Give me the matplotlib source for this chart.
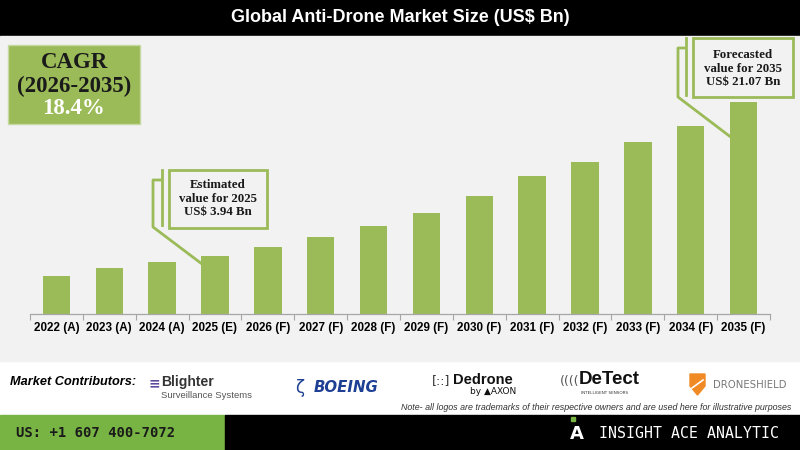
import matplotlib.pyplot as plt
import matplotlib.patches as mpatches
from matplotlib.lines import Line2D
import numpy as np

years = ["2022 (A)", "2023 (A)", "2024 (A)", "2025 (E)", "2026 (F)", "2027 (F)", "2028 (F)",
         "2029 (F)", "2030 (F)", "2031 (F)", "2032 (F)", "2033 (F)", "2034 (F)", "2035 (F)"]
market_size = [1.68, 2.57, 3.21, 3.94, 4.87, 5.99, 7.24, 8.69, 10.55, 12.77, 14.40, 16.55, 18.37, 21.07]
cagr_period = "(2026-2035)"
cagr_value = "18.4%"
contributors = ["Blighter", "BOEING", "Dedrone", "DeTect", "DRONESHIELD"]

# the bars in the picture do not start from zero
base = -2.55

W, H = 800, 450
GREEN = "#9bbb59"
BG = "#f2f2f2"


def fx(x):
    return x / W


def fy(y):
    return 1 - y / H


fig = plt.figure(figsize=(8, 4.5), dpi=100)
fig.patch.set_facecolor("white")

# background bands
fig.add_artist(mpatches.Rectangle((0, fy(36)), 1, 36 / H, transform=fig.transFigure,
                                  color="black", zorder=-1))
fig.add_artist(mpatches.Rectangle((0, fy(361)), 1, (361 - 36) / H, transform=fig.transFigure,
                                  color=BG, zorder=-1))
fig.add_artist(mpatches.Rectangle((0, 0), fx(225), 35 / H, transform=fig.transFigure,
                                  color="#77b443", zorder=-1))
fig.add_artist(mpatches.Rectangle((fx(225), 0), 1 - fx(225), 35 / H, transform=fig.transFigure,
                                  color="black", zorder=-1))

fig.text(0.5, fy(18), "Global Anti-Drone Market Size (US$ Bn)", ha="center", va="center",
         color="white", fontsize=13, fontweight="bold", family="Liberation Sans")

# bar chart
top_px = 40
ax = fig.add_axes([fx(30), fy(314), 740 / W, (314 - top_px) / H])
ax.set_facecolor("none")
x = np.arange(len(years))
ax.bar(x, np.array(market_size) - base, bottom=base, width=0.52, color=GREEN, zorder=2)
ax.set_xlim(-0.5, len(years) - 0.5)
ax.set_ylim(base, base + (314 - top_px) / 8.99)
ax.set_xticks(x)
ax.set_xticklabels(years, fontsize=8.4, fontweight="bold", family="Liberation Sans")
ax.set_xticks(np.arange(-0.5, len(years)), minor=True)
ax.tick_params(axis="x", which="major", length=0, pad=6)
ax.tick_params(axis="x", which="minor", length=4, color="#a6a6a6", width=0.8)
ax.set_yticks([])
for s in ["top", "right", "left"]:
    ax.spines[s].set_visible(False)
ax.spines["bottom"].set_color("#a6a6a6")
ax.spines["bottom"].set_linewidth(0.9)

# CAGR box
fig.add_artist(mpatches.Rectangle((fx(8), fy(124)), 132 / W, 79 / H, transform=fig.transFigure,
                                  facecolor=GREEN, edgecolor="#c5d9a0", lw=1, zorder=3))
for ty, t, c in [(62, "CAGR", "#1a1a1a"), (86, cagr_period, "#1a1a1a"), (109, cagr_value, "white")]:
    fig.text(fx(74), fy(ty), t, ha="center", va="center", fontsize=16.5, fontweight="bold",
             family="Liberation Serif", color=c, zorder=4)


def callout(box, vline, bracket, lines):
    x0, y0, x1, y1 = box
    fig.add_artist(mpatches.Rectangle((fx(x0), fy(y1)), (x1 - x0) / W, (y1 - y0) / H,
                                      transform=fig.transFigure, facecolor=BG,
                                      edgecolor=GREEN, lw=2, zorder=5))
    fig.add_artist(Line2D([fx(vline[0]), fx(vline[0])], [fy(vline[1]), fy(vline[2])],
                          transform=fig.transFigure, color=GREEN, lw=2, zorder=5))
    fig.add_artist(Line2D([fx(p[0]) for p in bracket], [fy(p[1]) for p in bracket],
                          transform=fig.transFigure, color=GREEN, lw=2, zorder=5))
    cx = (x0 + x1) / 2
    for ty, t in lines:
        fig.text(fx(cx), fy(ty), t, ha="center", va="center", fontsize=9.3, fontweight="bold",
                 family="Liberation Serif", color="#1a1a1a", zorder=6)


callout((169, 170, 267, 228), (162, 170, 225),
        [(160, 180), (153, 180), (153, 227), (202, 264)],
        [(185, "Estimated"), (198.5, "value for 2025"), (212.5, "US$ %.2f Bn" % market_size[3])])
callout((693, 38, 793, 97), (686, 38, 95),
        [(684, 48), (678, 48), (678, 97), (732, 138)],
        [(55, "Forecasted"), (68.5, "value for 2035"), (82.5, "US$ %.2f Bn" % market_size[-1])])

# contributors row
fig.text(fx(10), fy(382), "Market Contributors:", ha="left", va="center", fontsize=9.2,
         fontweight="bold", style="italic", family="Liberation Sans")

fig.text(fx(149), fy(383), "≡", ha="left", va="center", fontsize=10, color="#5b4a9e",
         fontweight="bold", style="italic")
fig.text(fx(161), fy(382), contributors[0], ha="left", va="center", fontsize=10,
         fontweight="bold", family="Liberation Sans", color="#333333")
fig.text(fx(161), fy(395), "Surveillance Systems", ha="left", va="center", fontsize=6.8,
         family="Liberation Sans", color="#555555")

fig.text(fx(295), fy(388), "\u03b6", ha="left", va="center", fontsize=12, color="#1d3f94")
fig.text(fx(314), fy(388), contributors[1], ha="left", va="center", fontsize=10.8,
         fontweight="bold", style="italic", family="DejaVu Sans", color="#1d3f94")

fig.text(fx(432), fy(381), "[::]", ha="left", va="center", fontsize=9, color="#333333")
fig.text(fx(453), fy(380), contributors[2], ha="left", va="center", fontsize=10.5,
         fontweight="bold", family="Liberation Sans", color="#111111")
fig.text(fx(470), fy(392), "by \u25b2AXON", ha="left", va="center", fontsize=6.5,
         family="DejaVu Sans", color="#111111")

fig.text(fx(560), fy(381), "((((", ha="left", va="center", fontsize=9, color="#555555")
fig.text(fx(579), fy(380), contributors[3], ha="left", va="center", fontsize=13.5,
         fontweight="bold", family="Liberation Sans", color="#111111")
fig.text(fx(581), fy(393), "INTELLIGENT SENSORS", ha="left", va="center", fontsize=3,
         family="DejaVu Sans", color="#333333")

shield = [(690, 374), (705, 374), (705, 386), (697.5, 395), (690, 386)]
fig.add_artist(mpatches.Polygon([(fx(a), fy(b)) for a, b in shield], closed=True,
                                transform=fig.transFigure, color="#f08a24", zorder=3))
fig.add_artist(Line2D([fx(692), fx(703)], [fy(388), fy(380)], transform=fig.transFigure,
                      color="white", lw=1.2, zorder=4))
fig.text(fx(713), fy(385), contributors[4], ha="left", va="center", fontsize=7.3,
         family="DejaVu Sans", color="#777777")

fig.text(fx(401), fy(407), "Note- all logos are trademarks of their respective owners and are used "
         "here for illustrative purposes", ha="left", va="center", fontsize=6.4, style="italic",
         family="Liberation Sans", color="#333333")

# footer
fig.text(fx(16), fy(433), "US: +1 607 400-7072", ha="left", va="center", fontsize=10,
         family="DejaVu Sans Mono", fontweight="bold", color="#1a1a1a")
fig.add_artist(mpatches.Rectangle((fx(571), fy(421)), 4 / W, 4 / H, transform=fig.transFigure,
                                  color="#77b443", zorder=3))
fig.text(fx(570), fy(434), "A", ha="left", va="center", fontsize=13, fontweight="bold",
         family="DejaVu Sans", color="white")
fig.text(fx(599), fy(433), "INSIGHT ACE ANALYTIC", ha="left", va="center", fontsize=10.7,
         family="DejaVu Sans Mono", color="white")

fig.savefig("out.png", dpi=100)
